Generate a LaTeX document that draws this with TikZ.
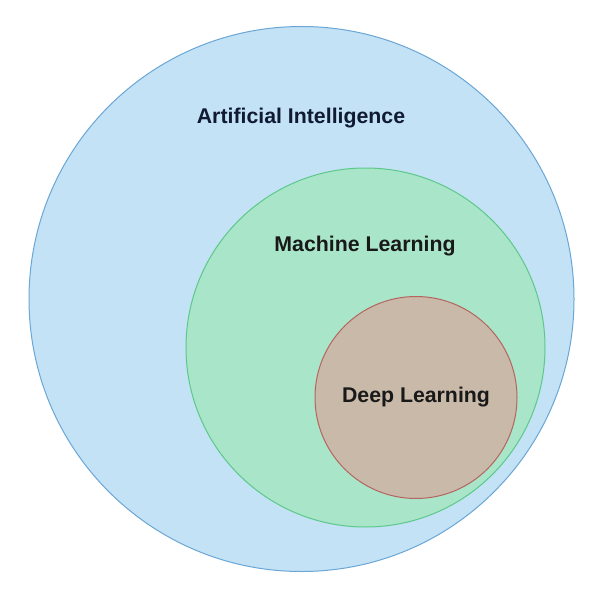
\documentclass[tikz,border=0pt]{standalone}
\usepackage{fontspec}
\setmainfont{Liberation Sans}
\usetikzlibrary{positioning}

\definecolor{aifill}{HTML}{C3E2F5}
\definecolor{aidraw}{HTML}{6AA6D6}
\definecolor{mlfill}{HTML}{A9E5C9}
\definecolor{mldraw}{HTML}{5CC98A}
\definecolor{dlfill}{HTML}{C9B9A9}
\definecolor{dldraw}{HTML}{B5655F}
\definecolor{aitext}{HTML}{101B33}

\tikzset{
  set/.style={circle, line width=1pt, inner sep=0pt},
  label text/.style={font=\bfseries\fontsize{21.3}{25}\selectfont, text=black!90},
}

\begin{document}
\begin{tikzpicture}[x=1pt, y=-1pt]
  \useasboundingbox (0,0) rectangle (602,599);
  % nested sets
  \node[set, fill=aifill, draw=aidraw, minimum size=545pt] (ai) at (301.5,299) {};
  \node[set, fill=mlfill, draw=mldraw, minimum size=359pt] (ml) at (365.5,347.5) {};
  \node[set, fill=dlfill, draw=dldraw, minimum size=202pt] (dl) at (416,397.5) {};
  % names
  \node[label text, text=aitext] (ailabel) at (301,118) {Artificial Intelligence};
  \node[label text] (mllabel) at (365,246) {Machine Learning};
  \node[label text] (dllabel) at (416,397) {Deep Learning};
\end{tikzpicture}
\end{document}
